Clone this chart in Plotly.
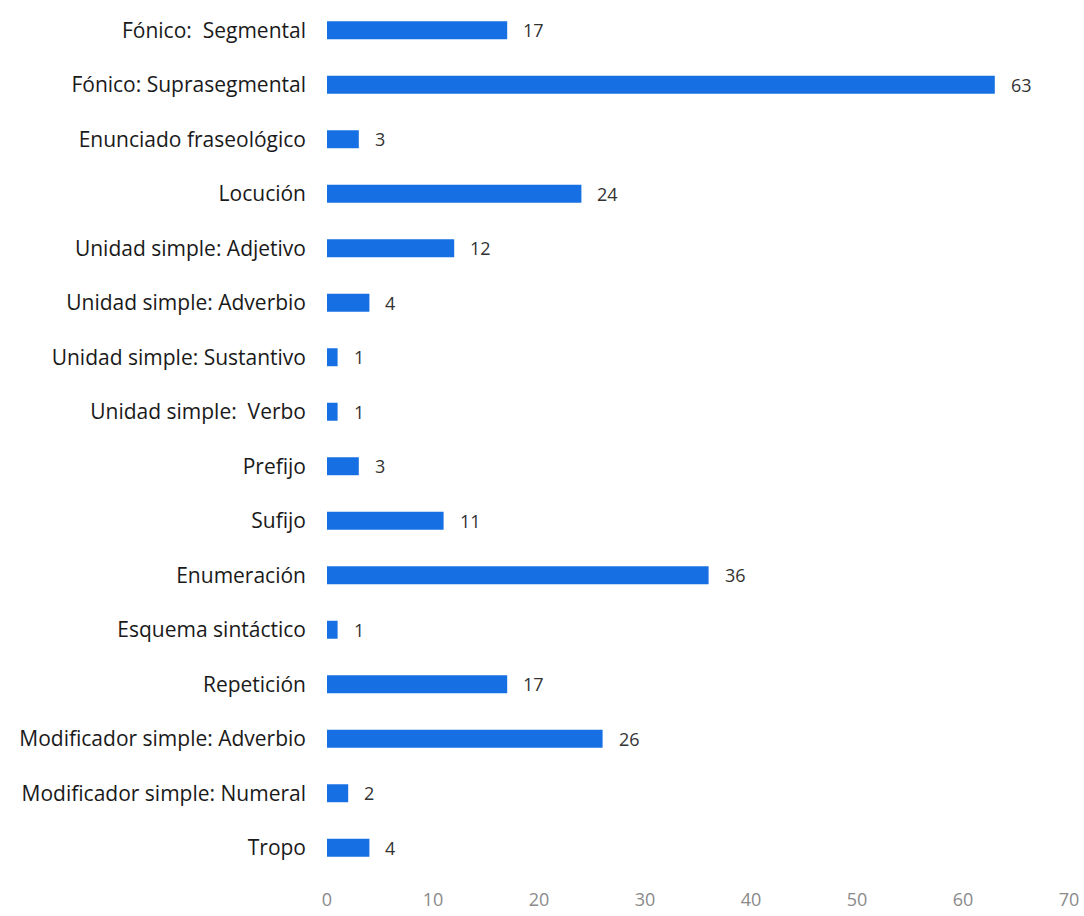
import plotly.graph_objects as go

categories = [
    "Fónico:  Segmental",
    "Fónico: Suprasegmental",
    "Enunciado fraseológico",
    "Locución",
    "Unidad simple: Adjetivo",
    "Unidad simple: Adverbio",
    "Unidad simple: Sustantivo",
    "Unidad simple:  Verbo",
    "Prefijo",
    "Sufijo",
    "Enumeración",
    "Esquema sintáctico",
    "Repetición",
    "Modificador simple: Adverbio",
    "Modificador simple: Numeral",
    "Tropo",
]
values = [17, 63, 3, 24, 12, 4, 1, 1, 3, 11, 36, 1, 17, 26, 2, 4]
x_ticks = [0, 10, 20, 30, 40, 50, 60, 70]

BAR_COLOR = "#1670e3"
FONT = "Open Sans"

fig = go.Figure(
    go.Bar(
        x=values,
        y=categories,
        orientation="h",
        marker=dict(color=BAR_COLOR, line=dict(width=0)),
        width=0.33,
        hoverinfo="x+y",
    )
)

# value labels just past the end of each bar
for cat, val in zip(categories, values):
    fig.add_annotation(
        x=val, y=cat, text=str(val), showarrow=False,
        xanchor="left", xshift=14,
        font=dict(family=FONT, size=18, color="#333333"),
    )

fig.update_layout(
    width=1084, height=916,
    margin=dict(l=327, r=15, t=3, b=41),
    paper_bgcolor="white", plot_bgcolor="white",
    showlegend=False,
    font=dict(family=FONT),
    xaxis=dict(
        range=[0, 70], tickvals=x_ticks, showgrid=False, zeroline=False,
        showline=False, ticks="outside", ticklen=8, tickcolor="rgba(0,0,0,0)",
        tickfont=dict(family=FONT, size=18, color="#8a8a8a"),
    ),
    yaxis=dict(
        categoryorder="array", categoryarray=categories,
        autorange="reversed", showgrid=False, zeroline=False, showline=False,
        ticks="", ticklabelstandoff=20,
        tickfont=dict(family=FONT, size=21, color="#1a1a1a"),
    ),
)

fig.write_html("out.html")
